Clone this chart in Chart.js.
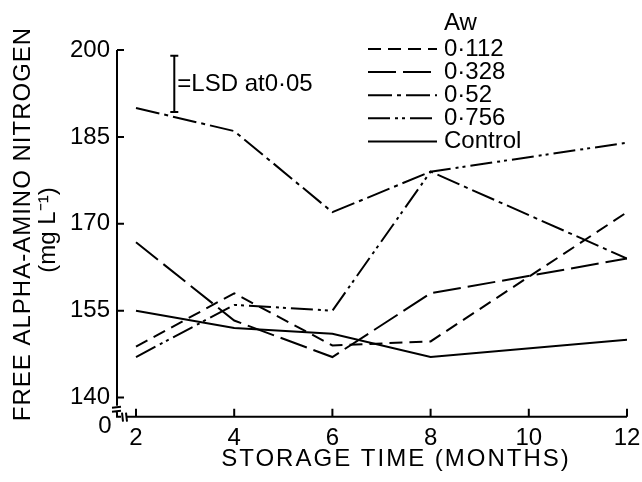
<!DOCTYPE html>
<html>
<head>
<meta charset="utf-8">
<script src="https://cdn.jsdelivr.net/npm/chart.js@4/dist/chart.umd.min.js"></script>
<style>
  html, body { margin: 0; padding: 0; background: #fff; }
</style>
</head>
<body>
<canvas id="chart" width="642" height="482"></canvas>
<script>
// storage time (months) and free alpha-amino nitrogen (mg/L) per water activity
const months = [2, 4, 6, 8, 12];
const aw112 = [148.8, 158, 149, 149.7, 172];
const aw328 = [166.8, 153.3, 147, 158, 164];
const aw52 = [190, 186, 172, 179, 164];
const aw756 = [147, 156, 155, 179, 184];
const control = [155, 152, 151, 147, 150];

const seriesLabels = ['0·112', '0·328', '0·52', '0·756', 'Control'];
const xTicks = [2, 4, 6, 8, 10, 12];
const yTicks = [140, 155, 170, 185, 200];

// LSD bar (month position, low/high value)
const lsdMonth = 2.78;
const lsdRange = [189.3, 199];

const FONT = 'Liberation Sans, Arial, sans-serif';
Chart.defaults.font.family = FONT;
Chart.defaults.color = '#000';

function pts(arr) {
  return months.map((m, i) => ({ x: m, y: arr[i] }));
}

function line(label, arr, dash) {
  return {
    label,
    data: pts(arr),
    borderColor: '#000',
    borderWidth: 2,
    borderDash: dash,
    borderCapStyle: 'butt',
    pointRadius: 0,
    tension: 0,
    fill: false
  };
}

const decor = {
  id: 'decor',
  afterDraw(chart) {
    const ctx = chart.ctx;
    const xs = chart.scales.x, ys = chart.scales.y;
    const left = chart.chartArea.left, bottom = chart.chartArea.bottom;
    ctx.save();
    ctx.strokeStyle = '#000';
    ctx.fillStyle = '#000';
    ctx.lineWidth = 2;

    // y axis with break
    ctx.beginPath();
    ctx.moveTo(left, ys.getPixelForValue(200));
    ctx.lineTo(left, bottom - 11);
    ctx.moveTo(left - 5, bottom - 9); ctx.lineTo(left + 4, bottom - 10);
    ctx.moveTo(left - 5, bottom - 5); ctx.lineTo(left + 4, bottom - 6);
    ctx.moveTo(left, bottom - 5); ctx.lineTo(left, bottom);
    // x axis with break
    ctx.lineTo(left + 4, bottom);
    ctx.moveTo(left + 5, bottom - 4); ctx.lineTo(left + 6, bottom + 5);
    ctx.moveTo(left + 9, bottom - 4); ctx.lineTo(left + 10, bottom + 5);
    ctx.moveTo(left + 10, bottom); ctx.lineTo(xs.getPixelForValue(12), bottom);
    ctx.stroke();

    // inward ticks
    ctx.beginPath();
    yTicks.forEach(v => {
      const y = ys.getPixelForValue(v);
      ctx.moveTo(left, y); ctx.lineTo(left + 7, y);
    });
    xTicks.forEach(v => {
      const x = xs.getPixelForValue(v);
      ctx.moveTo(x, bottom); ctx.lineTo(x, bottom - 8);
    });
    ctx.stroke();

    // LSD bar
    const lx = xs.getPixelForValue(lsdMonth);
    const y0 = ys.getPixelForValue(lsdRange[0]), y1 = ys.getPixelForValue(lsdRange[1]);
    ctx.beginPath();
    ctx.moveTo(lx, y0); ctx.lineTo(lx, y1);
    ctx.moveTo(lx - 4, y0); ctx.lineTo(lx + 4, y0);
    ctx.moveTo(lx - 4, y1); ctx.lineTo(lx + 4, y1);
    ctx.stroke();
    ctx.font = '24px ' + FONT;
    ctx.textBaseline = 'middle';
    ctx.textAlign = 'left';
    ctx.fillText('=LSD at0·05', lx + 3, (y0 + y1) / 2);

    // legend
    ctx.fillText('Aw', 444, 23);
    chart.data.datasets.forEach((ds, i) => {
      const y = 49 + i * 23.1;
      ctx.save();
      ctx.setLineDash(ds.borderDash || []);
      ctx.beginPath();
      ctx.moveTo(368, y); ctx.lineTo(437, y);
      ctx.stroke();
      ctx.restore();
      ctx.fillText(ds.label, 444, y);
    });

    // zero label at the broken origin
    ctx.textAlign = 'center';
    ctx.fillText('0', 105, 426);

    // axis titles
    ctx.letterSpacing = '2px';
    ctx.fillText('STORAGE TIME (MONTHS)', 396, 459);
    ctx.letterSpacing = '1px';
    ctx.save();
    ctx.translate(23, 224);
    ctx.rotate(-Math.PI / 2);
    ctx.fillText('FREE ALPHA-AMINO NITROGEN', 0, 0);
    ctx.restore();
    ctx.letterSpacing = '0px';
    ctx.save();
    ctx.translate(48, 230);
    ctx.rotate(-Math.PI / 2);
    ctx.fillText('(mg L⁻¹)', 0, 0);
    ctx.restore();

    ctx.restore();
  }
};

new Chart(document.getElementById('chart'), {
  type: 'line',
  data: {
    datasets: [
      line(seriesLabels[0], aw112, [13, 7]),
      line(seriesLabels[1], aw328, [28, 7]),
      line(seriesLabels[2], aw52, [24, 5, 4, 5]),
      line(seriesLabels[3], aw756, [22, 5, 3, 4, 3, 5]),
      line(seriesLabels[4], control, [])
    ]
  },
  options: {
    responsive: false,
    animation: false,
    devicePixelRatio: 1,
    layout: { padding: { top: 50, right: 15, left: 0, bottom: 0 } },
    plugins: { legend: { display: false }, tooltip: { enabled: false } },
    scales: {
      x: {
        type: 'linear',
        min: 1.613,
        max: 12,
        afterBuildTicks: s => { s.ticks = xTicks.map(v => ({ value: v })); },
        afterFit: s => { s.height = 65.3; s.paddingLeft = 0; s.paddingRight = 0; },
        grid: { display: false, drawTicks: false },
        border: { display: false },
        ticks: { font: { size: 24 }, color: '#000', padding: 7, maxRotation: 0 }
      },
      y: {
        min: 136.7,
        max: 200,
        afterBuildTicks: s => { s.ticks = yTicks.map(v => ({ value: v })); },
        afterFit: s => { s.width = 117; s.paddingTop = 0; s.paddingBottom = 0; },
        grid: { display: false, drawTicks: false },
        border: { display: false },
        ticks: { font: { size: 24 }, color: '#000', padding: 7 }
      }
    }
  },
  plugins: [decor]
});
</script>
</body>
</html>
